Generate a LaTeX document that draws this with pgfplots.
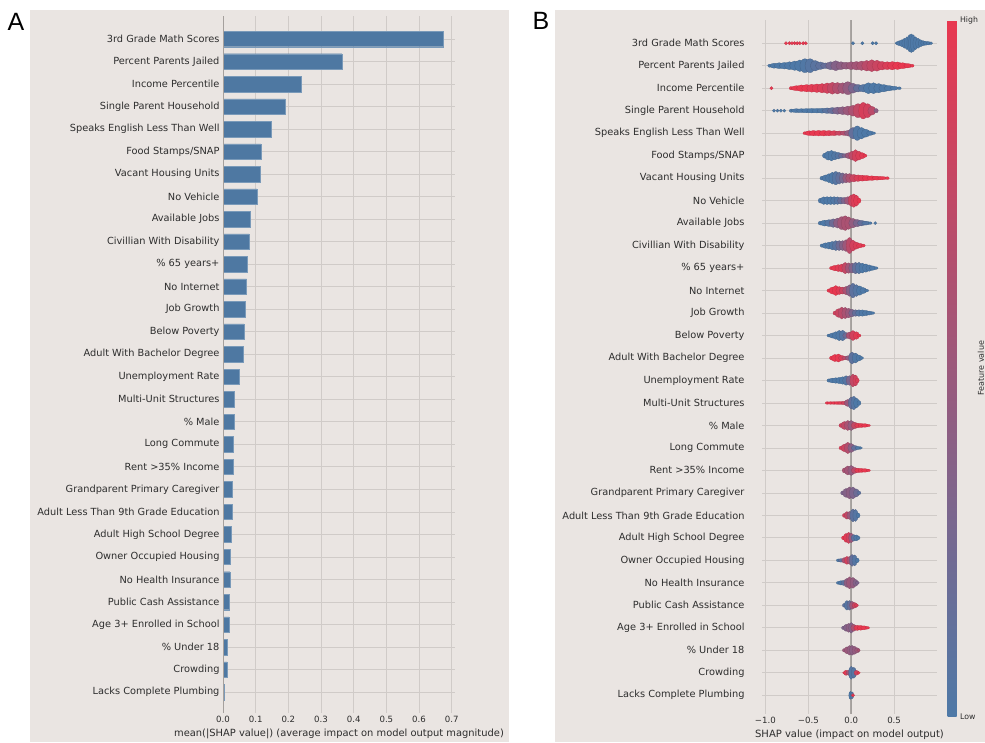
\documentclass[border=0pt]{standalone}
\usepackage{pgfplots}
\pgfplotsset{compat=1.18}
\usepackage{pgfplotstable}
\usepackage{fontspec}
\setmainfont{DejaVu Sans}
\newfontfamily\panelfont{Liberation Sans}
\definecolor{bgc}{RGB}{234,229,226}
\definecolor{gridc}{RGB}{208,203,200}
\definecolor{barc}{RGB}{78,120,162}
\definecolor{txt}{RGB}{45,45,45}
\definecolor{zeroA}{RGB}{165,160,157}
\definecolor{zeroB}{RGB}{150,146,143}

\pgfplotsset{featlabels/.style={yticklabels={3rd Grade Math Scores,Percent Parents Jailed,Income Percentile,Single Parent Household,Speaks English Less Than Well,Food Stamps/SNAP,Vacant Housing Units,No Vehicle,Available Jobs,Civillian With Disability,\% 65 years+,No Internet,Job Growth,Below Poverty,Adult With Bachelor Degree,Unemployment Rate,Multi-Unit Structures,\% Male,Long Commute,Rent >35\% Income,Grandparent Primary Caregiver,Adult Less Than 9th Grade Education,Adult High School Degree,Owner Occupied Housing,No Health Insurance,Public Cash Assistance,Age 3+ Enrolled in School,\% Under 18,Crowding,Lacks Complete Plumbing}}}

\pgfplotstableread{
y v
0 0.673
1 0.364
2 0.239
3 0.190
4 0.147
5 0.116
6 0.113
7 0.104
8 0.083
9 0.080
10 0.074
11 0.072
12 0.068
13 0.064
14 0.062
15 0.050
16 0.034
17 0.033
18 0.032
19 0.030
20 0.029
21 0.028
22 0.024
23 0.023
24 0.021
25 0.019
26 0.018
27 0.014
28 0.013
29 0.003
}\barsA

% beeswarm approximated by colour slices: x, row, half-width (px), half-height (px), feature value (0 low .. 1 high)
\pgfplotstableread{
x y w h c
-0.76 0 1.7 1.7 1
-0.72 0 1.7 1.7 1
-0.69 0 1.7 1.7 1
-0.66 0 1.7 1.7 1
-0.63 0 1.7 1.7 1
-0.60 0 1.7 1.7 1
-0.56 0 1.7 1.7 1
-0.53 0 1.7 1.7 1
0.02 0 1.7 1.7 0
0.13 0 1.7 1.7 0
0.25 0 1.7 1.7 0
0.29 0 1.7 1.7 0
0.53 0 1.8 1.5 0
0.56 0 2.6 2.5 0
0.59 0 2.6 3.5 0
0.62 0 2.6 5.0 0
0.65 0 2.6 6.5 0
0.68 0 2.6 8.5 0
0.70 0 2.6 9.3 0
0.72 0 2.6 8.5 0
0.75 0 2.6 6.5 0
0.78 0 2.6 5.0 0
0.81 0 2.6 3.5 0
0.84 0 2.6 2.5 0
0.87 0 2.6 2.0 0
0.90 0 2.2 1.7 0
0.93 0 1.7 1.5 0
-0.95 1 2.0 1.6 0
-0.90 1 4.0 2.5 0
-0.84 1 5.0 3.0 0
-0.78 1 5.0 3.3 0
-0.72 1 5.0 4.0 0
-0.66 1 5.0 4.7 0
-0.60 1 5.0 5.8 0
-0.54 1 5.0 7.0 0.02
-0.48 1 5.0 7.0 0.05
-0.42 1 5.0 5.3 0.08
-0.36 1 5.0 3.8 0.1
-0.30 1 5.0 2.8 0.15
-0.24 1 5.0 4.0 0.25
-0.18 1 5.0 5.0 0.35
-0.12 1 5.0 4.0 0.4
-0.06 1 5.0 3.5 0.45
0.00 1 5.0 4.0 0.5
0.06 1 5.0 4.3 0.55
0.12 1 5.0 4.7 0.6
0.18 1 5.0 5.3 0.7
0.24 1 5.0 6.0 0.75
0.30 1 5.0 5.5 0.8
0.36 1 5.0 4.3 0.85
0.42 1 5.0 4.0 0.9
0.48 1 5.0 4.2 0.95
0.54 1 5.0 3.8 1
0.60 1 5.0 3.0 1
0.66 1 4.0 2.2 1
0.71 1 2.0 1.5 1
-0.93 2 1.7 1.7 1
-0.70 2 2.0 1.7 1
-0.64 2 5.0 2.5 1
-0.58 2 5.0 3.3 1
-0.52 2 5.0 3.7 1
-0.46 2 5.0 4.0 0.95
-0.40 2 5.0 4.3 0.95
-0.34 2 5.0 4.7 0.9
-0.28 2 5.0 5.3 0.85
-0.22 2 5.0 6.0 0.75
-0.16 2 5.0 5.8 0.65
-0.10 2 5.0 5.5 0.55
-0.04 2 5.0 6.5 0.45
0.02 2 5.0 5.0 0.3
0.08 2 5.0 3.8 0.15
0.14 2 5.0 3.8 0.05
0.20 2 5.0 5.5 0
0.26 2 5.0 5.5 0
0.32 2 5.0 4.7 0
0.38 2 5.0 3.7 0
0.44 2 5.0 2.7 0
0.50 2 4.0 2.0 0
0.56 2 2.0 1.4 0
-0.90 3 1.6 1.6 0
-0.86 3 1.6 1.6 0
-0.82 3 1.6 1.6 0
-0.78 3 1.6 1.6 0
-0.70 3 2.0 1.7 0
-0.64 3 5.0 2.0 0
-0.58 3 5.0 2.0 0
-0.52 3 5.0 2.2 0
-0.46 3 5.0 2.3 0
-0.40 3 5.0 2.3 0
-0.34 3 5.0 2.5 0.02
-0.28 3 5.0 2.8 0.08
-0.22 3 5.0 3.2 0.15
-0.16 3 5.0 3.6 0.3
-0.10 3 5.0 4.0 0.4
-0.04 3 5.0 4.6 0.5
0.02 3 5.0 5.5 0.6
0.08 3 5.0 7.0 0.75
0.14 3 4.5 8.3 0.88
0.19 3 4.3 7.0 0.85
0.24 3 4.0 4.5 0.7
0.29 3 2.2 2.2 0.4
-0.54 4 2.0 1.5 1
-0.49 4 4.3 2.4 1
-0.44 4 4.3 2.7 1
-0.38 4 4.5 2.8 1
-0.32 4 4.5 2.8 1
-0.26 4 4.5 2.7 0.95
-0.20 4 4.5 2.5 0.9
-0.14 4 4.5 2.2 0.8
-0.08 4 4.3 2.3 0.65
-0.03 4 4.3 3.0 0.45
0.02 4 4.3 5.8 0.15
0.07 4 4.3 7.3 0.02
0.12 4 4.3 5.8 0
0.17 4 4.3 4.0 0
0.22 4 3.5 2.3 0
0.26 4 2.0 1.3 0
-0.31 5 2.2 2.5 0
-0.27 5 3.4 4.5 0
-0.23 5 3.4 5.3 0
-0.19 5 3.4 4.2 0.02
-0.15 5 3.4 3.3 0.05
-0.11 5 3.4 2.5 0.15
-0.07 5 3.4 2.0 0.3
-0.03 5 3.4 3.0 0.5
0.01 5 3.4 4.5 0.7
0.05 5 3.4 6.0 0.85
0.09 5 3.4 4.5 0.9
0.13 5 3.0 3.0 0.95
0.16 5 2.0 1.6 1
-0.34 6 2.2 2.0 0
-0.30 6 3.4 3.2 0
-0.26 6 3.4 4.5 0
-0.22 6 3.4 6.0 0
-0.18 6 3.4 6.7 0.05
-0.14 6 3.4 6.0 0.12
-0.10 6 3.4 5.3 0.25
-0.06 6 3.4 4.8 0.45
-0.02 6 3.8 4.6 0.6
0.03 6 4.3 3.8 0.8
0.08 6 4.3 3.3 0.9
0.13 6 4.5 3.0 0.95
0.18 6 4.5 2.7 1
0.24 6 5.0 2.3 1
0.30 6 5.0 2.0 1
0.36 6 4.5 1.7 1
0.42 6 2.0 1.4 1
-0.36 7 2.2 2.5 0
-0.32 7 3.4 3.8 0
-0.28 7 3.4 4.0 0
-0.24 7 3.4 4.0 0
-0.20 7 3.4 4.0 0.02
-0.16 7 3.4 3.8 0.05
-0.12 7 3.4 3.5 0.15
-0.08 7 3.4 3.3 0.3
-0.04 7 3.4 4.0 0.5
0.00 7 3.0 5.8 0.8
0.03 7 2.8 6.7 0.9
0.06 7 2.8 5.5 0.95
0.09 7 2.0 2.7 1
-0.36 8 2.2 2.0 0
-0.31 8 4.2 3.0 0
-0.26 8 4.2 3.5 0.05
-0.21 8 4.2 4.3 0.2
-0.16 8 4.2 5.0 0.4
-0.11 8 4.2 6.5 0.55
-0.07 8 3.8 7.3 0.6
-0.03 8 3.8 6.3 0.6
0.02 8 4.2 4.8 0.45
0.07 8 4.2 3.7 0.3
0.12 8 4.2 2.8 0.15
0.17 8 4.2 2.0 0.05
0.22 8 2.0 1.3 0
0.28 8 1.6 1.6 0
-0.34 9 2.0 1.7 0
-0.30 9 3.4 2.8 0
-0.26 9 3.4 3.5 0
-0.22 9 3.4 4.3 0.02
-0.18 9 3.4 5.0 0.08
-0.14 9 3.4 5.0 0.2
-0.10 9 3.4 5.0 0.35
-0.06 9 3.4 6.0 0.5
-0.02 9 3.4 8.0 0.7
0.02 9 3.4 5.5 0.85
0.06 9 3.4 3.5 0.9
0.10 9 3.4 2.3 0.95
0.14 9 2.0 1.5 1
-0.23 10 2.0 1.7 1
-0.19 10 3.4 2.8 1
-0.15 10 3.4 3.5 0.95
-0.11 10 3.4 4.0 0.9
-0.07 10 3.4 5.7 0.75
-0.03 10 3.4 5.3 0.55
0.01 10 3.4 5.0 0.35
0.05 10 3.4 5.8 0.15
0.09 10 3.4 5.8 0.05
0.13 10 3.4 5.0 0
0.17 10 3.4 4.2 0
0.21 10 3.4 3.2 0
0.25 10 3.4 2.2 0
0.29 10 2.0 1.3 0
-0.26 11 2.0 1.7 1
-0.22 11 3.4 3.5 1
-0.18 11 3.4 5.0 1
-0.14 11 3.4 4.0 0.95
-0.10 11 3.4 3.5 0.8
-0.06 11 3.4 4.2 0.6
-0.02 11 3.4 5.8 0.35
0.02 11 3.4 7.3 0.1
0.06 11 3.4 6.0 0.05
0.10 11 3.4 4.7 0
0.14 11 3.4 3.0 0
0.18 11 2.0 1.4 0
-0.19 12 2.0 2.0 0.85
-0.15 12 3.4 4.3 0.8
-0.11 12 3.4 6.0 0.7
-0.07 12 3.4 5.7 0.6
-0.03 12 3.4 4.8 0.5
0.01 12 3.4 3.8 0.3
0.05 12 3.4 3.3 0.15
0.09 12 3.4 3.3 0.05
0.13 12 3.4 3.2 0
0.17 12 3.4 2.7 0
0.21 12 3.4 2.0 0
0.25 12 2.0 1.3 0
-0.26 13 2.0 1.5 0
-0.22 13 3.4 2.6 0
-0.18 13 3.4 3.8 0
-0.14 13 3.4 5.2 0
-0.10 13 3.4 5.3 0.05
-0.06 13 3.4 3.0 0.2
-0.02 13 3.4 3.5 0.6
0.02 13 3.4 5.0 0.85
0.06 13 3.0 3.8 0.95
0.09 13 2.0 1.6 1
-0.23 14 2.0 2.0 1
-0.19 14 3.4 3.6 1
-0.15 14 3.4 4.0 1
-0.11 14 3.4 2.6 0.9
-0.07 14 3.4 1.8 0.7
-0.03 14 3.4 2.5 0.45
0.01 14 3.4 6.0 0.1
0.05 14 3.4 5.0 0.02
0.09 14 3.0 3.0 0
0.12 14 2.0 1.4 0
-0.26 15 2.0 1.7 0
-0.22 15 3.4 2.4 0
-0.18 15 3.4 2.8 0
-0.14 15 3.4 3.2 0
-0.10 15 3.4 3.8 0
-0.06 15 3.4 4.8 0.05
-0.02 15 3.4 4.8 0.3
0.02 15 3.0 6.5 0.75
0.05 15 2.6 5.5 0.85
0.07 15 2.0 2.5 0.9
-0.28 16 2.0 1.3 1
-0.24 16 3.4 1.3 1
-0.20 16 3.4 1.3 1
-0.16 16 3.4 1.4 1
-0.12 16 3.4 1.5 0.95
-0.08 16 3.4 1.8 0.85
-0.04 16 3.4 3.5 0.5
0.00 16 3.0 6.0 0.15
0.03 16 2.8 6.7 0.05
0.06 16 2.8 5.0 0
0.09 16 2.0 2.5 0
-0.12 17 2.0 2.0 0.85
-0.08 17 3.4 4.0 0.75
-0.04 17 3.4 5.0 0.6
0.00 17 3.4 5.0 0.45
0.04 17 3.4 3.3 0.75
0.08 17 3.4 2.3 0.95
0.12 17 3.4 2.0 1
0.16 17 3.4 1.8 1
0.20 17 2.0 1.2 1
-0.12 18 2.0 1.8 0.9
-0.08 18 3.4 3.8 0.8
-0.04 18 3.4 5.7 0.65
0.00 18 3.4 4.5 0.4
0.04 18 3.4 2.6 0.15
0.08 18 3.0 1.6 0
0.11 18 1.8 1.3 0
-0.08 19 2.2 2.5 0.6
-0.04 19 3.4 4.5 0.55
0.00 19 3.4 5.0 0.45
0.04 19 3.4 3.0 0.7
0.08 19 3.4 2.3 0.95
0.12 19 3.4 2.0 1
0.16 19 3.4 1.8 1
0.20 19 2.0 1.3 1
-0.10 20 2.0 2.0 0.3
-0.06 20 3.4 4.5 0.35
-0.02 20 3.4 6.0 0.4
0.02 20 3.4 6.0 0.3
0.06 20 3.0 4.0 0.2
0.09 20 2.0 1.8 0.1
-0.08 21 2.0 2.0 0.85
-0.05 21 2.6 3.8 0.75
-0.02 21 2.6 4.0 0.5
0.02 21 3.0 6.5 0.1
0.05 21 2.6 6.0 0.05
0.08 21 2.0 2.5 0
-0.09 22 2.0 2.0 1
-0.06 22 2.6 4.5 0.95
-0.03 22 2.6 5.7 0.85
0.00 22 2.6 4.8 0.5
0.03 22 2.6 3.3 0.1
0.06 22 2.6 3.0 0
0.08 22 2.0 1.8 0
-0.15 23 2.0 1.5 0
-0.12 23 2.6 1.8 0.1
-0.08 23 2.6 2.8 0.6
-0.05 23 2.6 4.0 0.85
-0.02 23 2.6 4.0 0.6
0.01 23 2.6 6.0 0.15
0.04 23 2.6 5.5 0.05
0.07 23 2.0 2.3 0
-0.15 24 2.0 1.5 0
-0.12 24 2.6 2.2 0
-0.09 24 2.6 2.6 0.1
-0.05 24 3.0 4.5 0.4
-0.02 24 2.8 6.0 0.5
0.02 24 2.8 5.5 0.45
0.05 24 2.6 3.5 0.35
0.07 24 2.0 1.6 0.3
-0.08 25 2.0 2.0 0.1
-0.05 25 2.6 4.8 0.05
-0.02 25 2.6 4.8 0.15
0.01 25 2.6 4.0 0.5
0.04 25 2.6 2.8 0.8
0.06 25 2.0 1.6 0.9
-0.09 26 2.0 1.8 0.3
-0.06 26 2.6 3.5 0.35
-0.03 26 2.6 4.5 0.4
0.00 26 2.6 5.3 0.35
0.03 26 3.0 3.5 0.6
0.07 26 3.4 2.6 0.95
0.11 26 3.4 2.4 1
0.15 26 3.4 2.0 1
0.19 26 2.0 1.3 1
-0.08 27 2.0 1.8 0.5
-0.05 27 2.6 3.5 0.5
-0.02 27 2.6 4.8 0.45
0.01 27 2.6 5.0 0.4
0.04 27 2.6 4.0 0.45
0.07 27 2.6 2.5 0.5
0.085 27 1.8 1.4 0.6
-0.08 28 1.8 1.5 1
-0.06 28 2.4 2.6 0.95
-0.03 28 2.6 2.5 0.6
0.00 28 2.6 6.5 0.05
0.03 28 2.6 5.5 0.05
0.06 28 2.4 2.5 0.8
0.085 28 1.8 1.5 1
-0.01 29 1.6 4.0 0
0.01 29 1.6 3.5 0.05
0.02 29 1.7 1.7 1
}\swarm

\begin{document}
\begin{tikzpicture}
\useasboundingbox (0,0) rectangle (985pt,742pt);
\fill[white] (0,0) rectangle (985pt,742pt);
\fill[bgc] (30pt,0pt) rectangle (509pt,732pt);
\fill[bgc] (555pt,0pt) rectangle (985pt,732pt);
\node[anchor=base west, inner sep=0pt, font=\panelfont\fontsize{25}{25}\selectfont] at (7.5pt,711pt) {A};
\node[anchor=base west, inner sep=0pt, font=\panelfont\fontsize{25}{25}\selectfont] at (532.5pt,712pt) {B};

\begin{axis}[
  at={(223pt,29pt)}, anchor=south west, scale only axis,
  width=232pt, height=697pt,
  xmin=0, xmax=0.71, ymin=-1.02, ymax=29.93, y dir=reverse,
  axis line style={draw=none}, major tick length=0pt,
  xtick={0,0.1,0.2,0.3,0.4,0.5,0.6,0.7},
  xticklabels={0.0,0.1,0.2,0.3,0.4,0.5,0.6,0.7},
  ytick={0,1,...,29}, featlabels,
  xmajorgrids, ymajorgrids, grid style={gridc, line width=0.8pt},
  tick label style={color=txt},
  xticklabel style={font=\fontsize{8.6}{9}\selectfont},
  yticklabel style={font=\fontsize{9.8}{11}\selectfont},
  xlabel={mean(|SHAP value|) (average impact on model output magnitude)},
  xlabel style={font=\fontsize{9.9}{11}\selectfont, color=txt, yshift=1pt},
]
\addplot[xbar, fill=barc, draw=barc!75!white, line width=0.4pt, bar width=15.5pt] table[x=v, y=y] {\barsA};
\draw[zeroA, line width=1.1pt] (axis cs:0,-1.02) -- (axis cs:0,29.93);
\end{axis}

\begin{axis}[
  at={(762pt,28.3pt)}, anchor=south west, scale only axis,
  width=175pt, height=693.4pt,
  xmin=-1.04, xmax=1.0, ymin=-1.02, ymax=29.82, y dir=reverse,
  axis line style={draw=none}, major tick length=0pt,
  xtick={-1,-0.5,0,0.5},
  xticklabels={−1.0,−0.5,0.0,0.5},
  ytick={0,1,...,29}, featlabels,
  xmajorgrids, ymajorgrids, grid style={gridc, line width=0.8pt},
  tick label style={color=txt},
  xticklabel style={font=\fontsize{8.6}{9}\selectfont},
  yticklabel style={font=\fontsize{9.8}{11}\selectfont, xshift=-14pt},
  xlabel={SHAP value (impact on model output)},
  xlabel style={font=\fontsize{10}{11}\selectfont, color=txt, yshift=1pt},
  colormap={shapmap}{rgb255=(78,121,167) rgb255=(232,56,80)},
  point meta min=0, point meta max=1,
  colorbar,
  colorbar style={
    at={(parent axis.north east)}, anchor=north west, xshift=2pt,
    scale only axis, width=9pt, height=696pt,
    ytick={0,1}, yticklabels={Low,High},
    major tick length=0pt, axis line style={draw=none},
    yticklabel style={font=\fontsize{7.8}{8}\selectfont, color=txt},
    every axis y label/.style={at={(axis description cs:3.7,0.5)}, anchor=center, rotate=90, font=\fontsize{8}{9}\selectfont, color=txt},
    ylabel={Feature value},
  },
]
\addplot[scatter, only marks, mark=*, mark size=1pt, line width=0.2pt,
  point meta=\thisrow{c},
  visualization depends on={\thisrow{w} \as \ww},
  visualization depends on={\thisrow{h} \as \hh},
  scatter/@pre marker code/.append style={/tikz/xscale=\ww,/tikz/yscale=\hh},
] table[x=x, y=y] {\swarm};
\draw[zeroB, line width=2.4pt, opacity=0.75] (axis cs:0,-1.02) -- (axis cs:0,29.82);
\end{axis}
\end{tikzpicture}
\end{document}
